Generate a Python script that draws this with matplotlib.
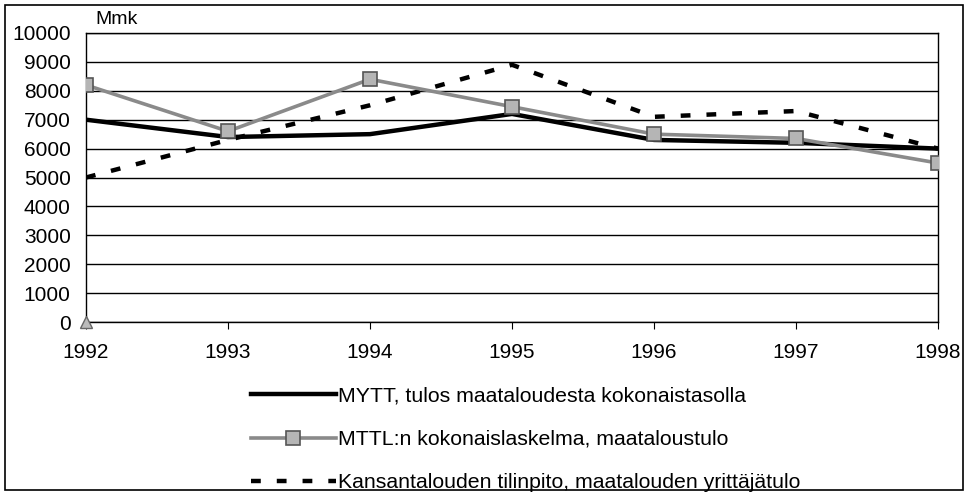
import matplotlib
matplotlib.use("Agg")
import matplotlib.pyplot as plt
from matplotlib.patches import Rectangle

plt.rcParams['font.family'] = ['Liberation Sans', 'DejaVu Sans']

years = ['1992', '1993', '1994', '1995', '1996', '1997', '1998']
mytt = [7000, 6400, 6500, 7200, 6300, 6200, 6000]
mttl = [8200, 6600, 8400, 7450, 6500, 6350, 5500]
kansantalous = [5000, 6300, 7500, 8900, 7100, 7300, 6000]
extra_years = ['1992']
extra_vals = [0]
yticks = list(range(0, 10001, 1000))

labels = ['MYTT, tulos maataloudesta kokonaistasolla',
          'MTTL:n kokonaislaskelma, maataloustulo',
          'Kansantalouden tilinpito, maatalouden yrittäjätulo']

W, H = 969, 497
fig = plt.figure(figsize=(W / 100, H / 100), dpi=100)
ax = fig.add_axes([86 / W, 1 - 322 / H, (938 - 86) / W, (322 - 33) / H])

x = list(range(len(years)))
l1, = ax.plot(x, mytt, color='black', lw=3.2, solid_joinstyle='round', zorder=4)
l2, = ax.plot(x, mttl, color='#8a8a8a', lw=2.6, marker='s', markersize=10,
              markerfacecolor='#b5b5b5', markeredgecolor='#555555', markeredgewidth=1.2, zorder=5)
l3, = ax.plot(x, kansantalous, color='black', lw=3.2, dashes=(2.2, 3.6), zorder=3)
ax.plot([years.index(y) for y in extra_years], extra_vals, linestyle='none', marker='^',
        markersize=8, markerfacecolor='#bbbbbb', markeredgecolor='#666666', clip_on=False, zorder=6)

ax.set_xlim(0, len(years) - 1)
ax.set_ylim(0, 10000)
ax.set_yticks(yticks)
ax.set_yticklabels([str(v) for v in yticks])
ax.set_xticks(x)
ax.set_xticklabels(years)
ax.grid(axis='y', color='black', lw=1)
ax.set_axisbelow(True)
for s in ax.spines.values():
    s.set_color('black')
    s.set_linewidth(1)
ax.tick_params(axis='both', labelsize=15, colors='black', length=5, direction='out')
ax.tick_params(axis='y', length=0, pad=11)
ax.tick_params(axis='x', pad=10)

fig.text(95 / W, 1 - 20 / H, 'Mmk', fontsize=14, ha='left', va='center')

leg = fig.legend([l1, l2, l3], labels, loc='upper left', bbox_to_anchor=(242 / W, 1 - 378 / H),
                 frameon=False, fontsize=15.3, handlelength=4.0, handletextpad=0.1,
                 labelspacing=1.15, borderaxespad=0)

fig.patches.append(Rectangle((5 / W, 1 - 490 / H), (963 - 5) / W, (490 - 5) / H,
                             transform=fig.transFigure, fill=False, edgecolor='black', lw=1.2))

fig.savefig('out.png', dpi=100)
